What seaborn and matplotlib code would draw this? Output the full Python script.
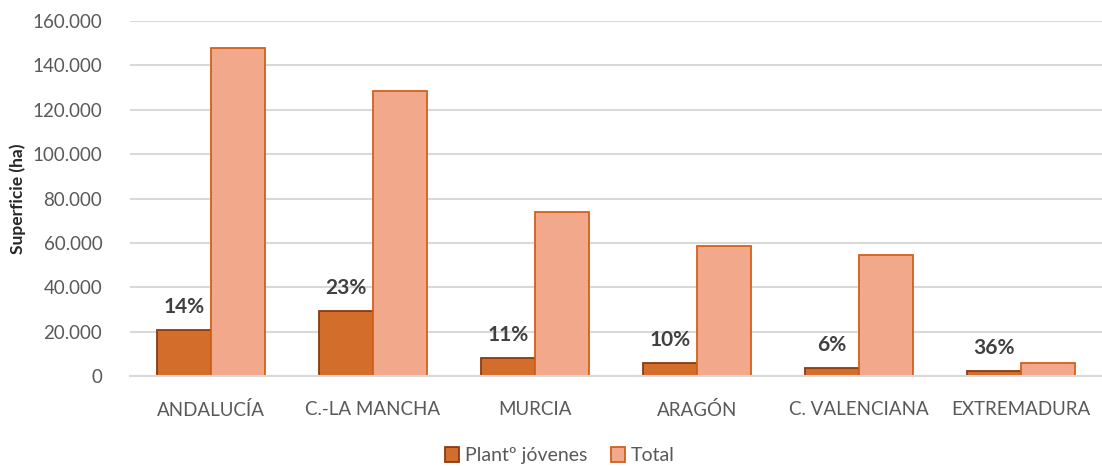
import matplotlib
matplotlib.use("Agg")
import matplotlib.pyplot as plt
import seaborn as sns
import pandas as pd
from matplotlib.patches import Patch

regions = ["ANDALUCÍA", "C.-LA MANCHA", "MURCIA", "ARAGÓN", "C. VALENCIANA", "EXTREMADURA"]
plant_jovenes = [20700, 29300, 8100, 5900, 3500, 2200]
total = [147800, 128500, 73900, 58600, 54700, 5800]
pct_labels = ["14%", "23%", "11%", "10%", "6%", "36%"]
series = ["Plantº jóvenes", "Total"]
yticks = [0, 20000, 40000, 60000, 80000, 100000, 120000, 140000, 160000]
ytick_labels = ["0", "20.000", "40.000", "60.000", "80.000", "100.000", "120.000", "140.000", "160.000"]

fills = ["#D26D2B", "#F2A88A"]
edges = ["#8A3A10", "#D2601A"]

df = pd.DataFrame({
    "Región": regions * 2,
    "Serie": [series[0]] * len(regions) + [series[1]] * len(regions),
    "Valor": plant_jovenes + total,
})

sns.set_theme(style="white")
plt.rcParams["font.family"] = ["Lato", "DejaVu Sans"]

fig = plt.figure(figsize=(11.02, 4.66), dpi=100)
ax = fig.add_axes([0.118, 0.193, 0.882, 0.762])

sns.barplot(data=df, x="Región", y="Valor", hue="Serie", palette=fills,
            width=0.667, ax=ax, legend=False, saturation=1)

for cont, ec in zip(ax.containers, edges):
    for p in cont:
        p.set_edgecolor(ec)
        p.set_linewidth(1.3)

for p, lab in zip(ax.containers[0], pct_labels):
    ax.text(p.get_x() + p.get_width() / 2, p.get_height() + 6000, lab,
            ha="center", va="bottom", fontsize=15, fontweight="bold", color="#404040")

ax.set_ylim(0, 160000)
ax.set_xlim(-0.5, len(regions) - 0.5)
ax.set_yticks(yticks)
ax.set_yticklabels(ytick_labels, fontsize=13.5, color="#595959")
ax.tick_params(axis="x", labelsize=13.5, labelcolor="#595959", pad=18, length=0)
ax.tick_params(axis="y", length=0, pad=20)
ax.set_xlabel("")
ax.set_ylabel("Superficie (ha)", fontsize=12.5, fontweight="bold", color="#262626", labelpad=5)
ax.yaxis.grid(True, color="#D9D9D9", linewidth=1.5)
ax.set_axisbelow(True)
for s in ["top", "right", "left"]:
    ax.spines[s].set_visible(False)
ax.spines["bottom"].set_color("#D9D9D9")
ax.spines["bottom"].set_linewidth(1.5)

handles = [Patch(facecolor=f, edgecolor=e, linewidth=1.3) for f, e in zip(fills, edges)]
fig.legend(handles, series, loc="center", bbox_to_anchor=(0.508, 0.022), ncol=2,
           frameon=False, fontsize=14, handlelength=0.75, handleheight=0.75,
           handletextpad=0.3, columnspacing=1.2, labelcolor="#595959")

fig.savefig("out.png", dpi=100)
